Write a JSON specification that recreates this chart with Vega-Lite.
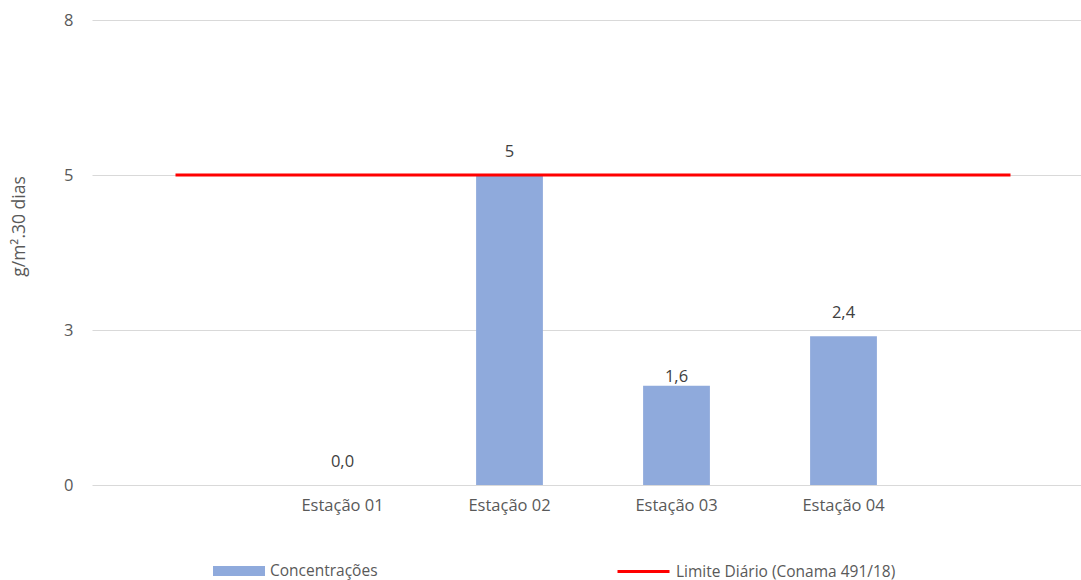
{
  "$schema": "https://vega.github.io/schema/vega-lite/v6.json",
  "width": 989,
  "height": 465,
  "autosize": {"type": "none"},
  "padding": {"left": 92, "top": 20, "right": 0, "bottom": 95},
  "background": "white",
  "config": {"font": "Open Sans", "view": {"stroke": null}},
  "datasets": {
    "estacoes": [
      {"estacao": "Estação 01", "valor": 0.0, "rotulo": "0,0"},
      {"estacao": "Estação 02", "valor": 5.0, "rotulo": "5"},
      {"estacao": "Estação 03", "valor": 1.6, "rotulo": "1,6"},
      {"estacao": "Estação 04", "valor": 2.4, "rotulo": "2,4"}
    ],
    "limite": [
      {"estacao": "início", "valor": 5},
      {"estacao": "fim", "valor": 5}
    ]
  },
  "encoding": {
    "x": {
      "field": "estacao",
      "type": "nominal",
      "sort": null,
      "scale": {
        "domain": ["início", "Estação 01", "Estação 02", "Estação 03", "Estação 04", "fim"],
        "range": [0, 1002],
        "paddingInner": 0.6,
        "paddingOuter": 0.3
      },
      "axis": {
        "title": null,
        "labelExpr": "indexof(datum.label, 'Estação') == 0 ? datum.label : ''",
        "labelAngle": 0,
        "labelFontSize": 16.5,
        "labelColor": "#595959",
        "labelPadding": 12,
        "domain": false,
        "ticks": false,
        "grid": false
      }
    },
    "y": {
      "field": "valor",
      "type": "quantitative",
      "scale": {"domain": [0, 7.5], "nice": false},
      "axis": {
        "values": [0, 2.5, 5, 7.5],
        "labelExpr": "'' + round(datum.value)",
        "grid": true,
        "gridColor": "#d9d9d9",
        "gridWidth": 1,
        "domain": false,
        "ticks": false,
        "labelFontSize": 16.5,
        "labelColor": "#595959",
        "labelPadding": 19,
        "title": "g/m².30 dias",
        "titleFontSize": 17.5,
        "titleFontWeight": "normal",
        "titleColor": "#595959",
        "titlePadding": 35,
        "titleY": 206
      }
    }
  },
  "layer": [
    {
      "data": {"name": "estacoes"},
      "mark": {"type": "bar"},
      "encoding": {
        "fill": {
          "datum": "Concentrações",
          "type": "nominal",
          "scale": {"range": ["#8faadc"]},
          "legend": {
            "orient": "none",
            "legendX": 121,
            "legendY": 525,
            "title": null,
            "padding": 0,
            "symbolType": "M-1,-0.19H1V0.19H-1Z",
            "symbolSize": 2704,
            "symbolStrokeWidth": 0,
            "labelFontSize": 15.5,
            "labelColor": "#595959",
            "labelOffset": 5,
            "labelLimit": 500
          }
        }
      }
    },
    {
      "data": {"name": "limite"},
      "mark": {"type": "line", "strokeWidth": 3, "strokeCap": "butt"},
      "encoding": {
        "stroke": {
          "datum": "Limite Diário (Conama 491/18)",
          "type": "nominal",
          "scale": {"range": ["#ff0000"]},
          "legend": {
            "orient": "none",
            "legendX": 524,
            "legendY": 524,
            "title": null,
            "padding": 0,
            "symbolType": "M-1,0H1",
            "symbolSize": 2704,
            "symbolStrokeWidth": 3,
            "labelFontSize": 15.5,
            "labelColor": "#595959",
            "labelOffset": 5,
            "labelLimit": 500
          }
        }
      }
    },
    {
      "data": {"name": "estacoes"},
      "transform": [{"filter": "datum.estacao != 'Estação 03'"}],
      "mark": {"type": "text", "baseline": "middle", "dy": -23, "fontSize": 16.5, "color": "#404040"},
      "encoding": {"text": {"field": "rotulo"}}
    },
    {
      "data": {"name": "estacoes"},
      "transform": [{"filter": "datum.estacao == 'Estação 03'"}],
      "mark": {"type": "text", "baseline": "middle", "dy": -9, "fontSize": 16.5, "color": "#404040"},
      "encoding": {"text": {"field": "rotulo"}}
    }
  ]
}
